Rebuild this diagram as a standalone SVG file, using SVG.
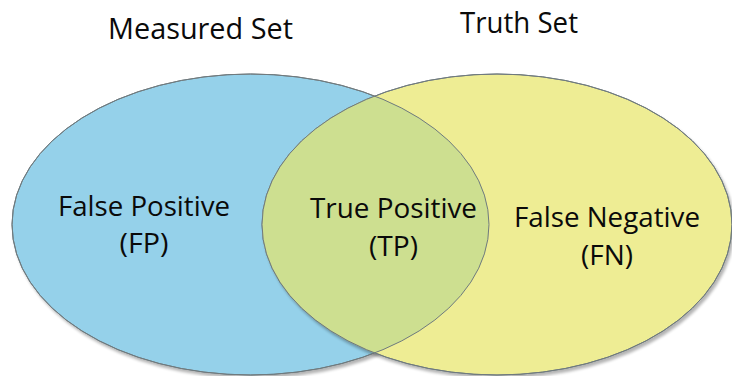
<svg xmlns="http://www.w3.org/2000/svg" width="732" height="376" viewBox="0 0 732 376">
  <defs>
    <filter id="shadow" x="-10%" y="-10%" width="125%" height="125%">
      <feGaussianBlur in="SourceAlpha" stdDeviation="1.5"/>
      <feOffset dx="2" dy="3" result="b"/>
      <feComponentTransfer><feFuncA type="linear" slope="0.3"/></feComponentTransfer>
      <feMerge><feMergeNode/><feMergeNode in="SourceGraphic"/></feMerge>
    </filter>
    <clipPath id="clipBlue">
      <ellipse cx="250.5" cy="224.5" rx="238.5" ry="150.5"/>
    </clipPath>
  </defs>
  <style>
    .lbl { font-family: "Open Sans", "Noto Sans", sans-serif; font-size: 27px; fill: #0a0a0a; text-anchor: middle; }
    .ttl { font-family: "Open Sans", "Noto Sans", sans-serif; font-size: 29px; fill: #0a0a0a; text-anchor: middle; }
    .edge { fill: none; stroke: #6f7a7e; stroke-width: 1; }
  </style>
  <rect width="732" height="376" fill="#ffffff"/>

  <g id="measured-set">
    <ellipse cx="250.5" cy="224.5" rx="238.5" ry="150.5" fill="#95d1ea" stroke="#6f7a7e" stroke-width="1" filter="url(#shadow)"/>
  </g>
  <g id="truth-set">
    <ellipse cx="497" cy="224.5" rx="235" ry="150.5" fill="#eeed94" stroke="#6f7a7e" stroke-width="1" filter="url(#shadow)"/>
  </g>
  <g id="overlap">
    <ellipse cx="497" cy="224.5" rx="235" ry="150.5" fill="#cddf90" clip-path="url(#clipBlue)"/>
    <ellipse class="edge" cx="250.5" cy="224.5" rx="238.5" ry="150.5"/>
    <ellipse class="edge" cx="497" cy="224.5" rx="235" ry="150.5"/>
  </g>

  <g id="titles">
    <text class="ttl" x="200.5" y="39" textLength="185" lengthAdjust="spacingAndGlyphs">Measured Set</text>
    <text class="ttl" x="519" y="33" textLength="118" lengthAdjust="spacingAndGlyphs">Truth Set</text>
  </g>
  <g id="fp-label">
    <text class="lbl" x="144" y="216" textLength="172" lengthAdjust="spacingAndGlyphs">False Positive</text>
    <text class="lbl" x="144" y="253" textLength="49" lengthAdjust="spacingAndGlyphs">(FP)</text>
  </g>
  <g id="tp-label">
    <text class="lbl" x="393.5" y="218" textLength="167" lengthAdjust="spacingAndGlyphs">True Positive</text>
    <text class="lbl" x="393.5" y="256" textLength="49" lengthAdjust="spacingAndGlyphs">(TP)</text>
  </g>
  <g id="fn-label">
    <text class="lbl" x="607" y="227" textLength="186" lengthAdjust="spacingAndGlyphs">False Negative</text>
    <text class="lbl" x="607" y="265" textLength="52" lengthAdjust="spacingAndGlyphs">(FN)</text>
  </g>
</svg>
